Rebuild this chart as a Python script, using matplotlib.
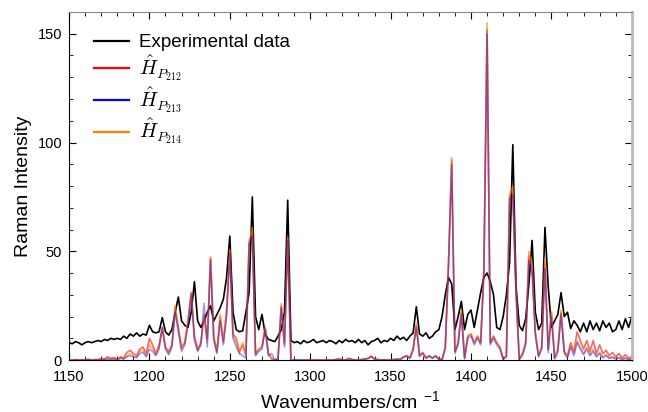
import numpy as np
import matplotlib
matplotlib.use('Agg')
import matplotlib.pyplot as plt
from matplotlib.ticker import MultipleLocator

plt.rcParams['font.family'] = ['Liberation Sans', 'DejaVu Sans']
plt.rcParams['mathtext.fontset'] = 'cm'

# wavenumber grid, 2 cm-1 step
wavenumber = np.arange(1150, 1501, 2)

experimental = [
    8, 7.5, 8.5, 8, 7, 8, 8.5, 8, 8.5, 9,
    8.5, 9.5, 9, 10, 9.5, 10, 9.5, 11, 10, 12,
    11, 12.5, 11, 12, 11.5, 16, 13, 12.5, 13, 19.5,
    13, 11.5, 14, 22, 29, 18, 16, 15, 22, 36,
    18, 15, 18, 22, 25, 18, 21, 24, 28, 38,
    57, 22, 14, 13, 13.5, 22, 31, 75, 20, 14,
    21, 12, 9.5, 9, 8.5, 11, 14, 22, 73.5, 9,
    8, 8.5, 7.5, 9, 8, 8.5, 9.5, 8, 8.5, 9,
    8, 9, 8.5, 7.5, 9, 8, 9.5, 8.5, 9, 8,
    9.5, 8, 9, 7, 8.5, 9, 10, 8, 9, 8.5,
    10, 9, 11, 9.5, 10.5, 9, 11, 12.5, 24.5, 12,
    11, 12.5, 10, 11, 13, 14, 20, 30, 38, 35,
    14, 20, 27, 14, 21, 23, 15, 23, 31, 38,
    40, 36, 30, 15, 14, 20, 30, 45, 99, 34,
    16, 13.5, 19, 35, 55, 22, 14, 17, 61, 34,
    15, 18, 21, 31, 20, 22, 14.5, 18, 16, 13,
    17, 13, 18, 14, 17, 13.5, 18, 15, 17, 13,
    14, 18, 14, 19, 15, 20,
]

h_p212 = [
    0, 0, 0.3, 0, 0.2, 0, 0.5, 0, 0.3, 0.2,
    0.8, 0.5, 1.5, 0.8, 1.2, 0.5, 1.5, 1.0, 3.5, 4.5,
    3, 2, 5, 6, 3, 10, 7, 3, 7, 15,
    6, 4, 7, 24, 15, 6, 8, 18, 31, 11,
    5, 8, 20, 10, 47, 11, 4, 20, 9, 22,
    50, 12, 10, 4, 7, 2, 54, 58, 3, 5,
    6, 15, 3, 0.5, 0, 1, 25, 8, 56, 0,
    0, 0, 0, 0, 0, 0, 0, 0, 0, 0,
    0, 0, 0, 0.3, 0.5, 0.2, 0, 0.8, 0.3, 0,
    0, 0.3, 0.5, 0.8, 1.8, 0.5, 0.3, 0, 0.2, 0,
    0, 0.3, 0.5, 0.3, 1.5, 2, 1, 5, 16, 2,
    3.5, 1, 2, 1, 2, 0.5, 0.3, 6, 44, 92,
    4, 8, 22, 1, 11, 12, 8, 11, 8, 41,
    152, 8, 11, 8, 6, 0.5, 2, 75, 78, 32,
    0.5, 3, 8, 48, 42, 13, 2, 6, 44, 5,
    22, 1, 5, 22, 4, 2, 8, 4, 13, 9,
    5, 9, 4, 9, 3, 7, 3, 4.5, 2, 3.5,
    1.5, 3, 1, 2.5, 1, 1.5,
]

h_p213 = [
    0, 0, 0, 0, 0, 0, 0.2, 0, 0, 0.1,
    0.3, 0.2, 0.5, 0.3, 0.5, 0.2, 0.8, 0.5, 1.5, 2,
    1.5, 1, 3, 3.5, 1.5, 5, 4, 2, 5, 15,
    5, 2.5, 6, 22, 13, 4, 7, 16, 30, 9,
    4, 7, 26, 6, 46, 9, 3, 18, 7, 20,
    49, 10, 6, 3, 2, 1, 53, 57, 2, 4,
    5, 14, 2, 3, 0, 0.5, 24, 6, 55, 0,
    0, 0, 0, 0, 0, 0, 0, 0, 0, 0,
    0, 0, 0, 0.2, 0.4, 0.1, 0, 0.6, 0.2, 0,
    0, 0.2, 0.4, 0.7, 1.6, 0.4, 0.2, 0, 0.1, 0,
    0, 0.2, 0.4, 0.2, 1.3, 1.8, 0.8, 4.5, 15, 1.8,
    3, 0.8, 1.8, 0.8, 1.8, 0.3, 0.2, 5, 43, 90,
    3, 7, 21, 0.5, 10, 11, 7, 10, 7, 40,
    150, 7, 10, 7, 5, 0.3, 1.5, 74, 76, 30,
    0.3, 2, 7, 46, 40, 11, 1.5, 5, 42, 3.5,
    20, 0.5, 3.5, 21, 3, 1, 6, 2, 8, 5,
    2.5, 5, 2, 4, 1.5, 3, 1, 2, 0.8, 1.2,
    0.5, 1, 0.3, 0.8, 0.3, 0.5,
]

h_p214 = [
    0, 0, 0, 0, 0, 0, 0.2, 0, 0.1, 0,
    0.4, 0.3, 0.8, 0.4, 0.6, 0.3, 1, 0.6, 2, 3,
    2, 1.5, 4, 4.5, 2, 7, 5, 2.5, 6, 14,
    5.5, 3, 6.5, 25, 14, 5, 8, 19, 31, 10,
    4.5, 7.5, 21, 8, 47.5, 10, 3.5, 21, 8, 24,
    51, 11, 8, 3, 8, 3, 55, 61, 2.5, 5,
    6, 15, 3, 1, 0, 0.5, 26, 7, 56.5, 0,
    0, 0, 0, 0, 0, 0, 0, 0, 0, 0,
    0, 0, 0, 0.3, 0.5, 0.2, 0, 0.7, 0.3, 0,
    0, 0.3, 0.5, 0.8, 1.8, 0.5, 0.3, 0, 0.2, 0,
    0, 0.3, 0.5, 0.3, 1.5, 2, 1, 5.5, 17, 2,
    3.5, 1, 2, 1, 2, 0.5, 0.3, 6, 45, 93,
    4, 8, 23, 1, 11, 12, 8, 11, 8, 42,
    155, 8, 11, 8, 6, 0.5, 2, 76, 80, 33,
    0.5, 3, 8, 50, 43, 13, 2, 6, 47, 5,
    22, 1, 5, 23, 4, 1.5, 7, 3, 9, 6,
    3, 6, 2.5, 5, 2, 3.5, 1.5, 2.5, 1, 1.5,
    0.8, 1.2, 0.5, 1, 0.4, 0.6,
]

fig = plt.figure(figsize=(6.48, 4.12), dpi=100)
ax = fig.add_axes([0.1065, 0.126, 0.8685, 0.845])

exp_line, = ax.plot(wavenumber, experimental, color='black', lw=1.2)
# drawing order red -> orange -> blue gives the mauve overlap of the original
red_line, = ax.plot(wavenumber, h_p212, color='red', lw=1.2, alpha=0.6)
orange_line, = ax.plot(wavenumber, h_p214, color='#ff8000', lw=1.2, alpha=0.6)
blue_line, = ax.plot(wavenumber, h_p213, color='blue', lw=1.2, alpha=0.4)

ax.set_xlim(1150, 1500)
ax.set_ylim(0, 160)
ax.xaxis.set_major_locator(MultipleLocator(50))
ax.xaxis.set_minor_locator(MultipleLocator(10))
ax.yaxis.set_major_locator(MultipleLocator(50))
ax.yaxis.set_minor_locator(MultipleLocator(10))
ax.tick_params(which='both', direction='in', top=True, right=True, labelsize=10.5)
ax.tick_params(which='major', length=5)
ax.tick_params(which='minor', length=3)
ax.tick_params(axis='x', pad=7)
ax.tick_params(axis='y', pad=5)
ax.spines['top'].set_color('#888888')
ax.spines['right'].set_color('#bbbbbb')
ax.spines['right'].set_linewidth(2)

ax.set_xlabel(r'Wavenumbers/cm $^{\mathregular{-1}}$', fontsize=14, labelpad=5)
ax.set_ylabel('Raman Intensity', fontsize=14, labelpad=4)

labels = ['Experimental data', r'$\hat{H}_{P_{212}}$', r'$\hat{H}_{P_{213}}$', r'$\hat{H}_{P_{214}}$']
leg = ax.legend([exp_line, red_line, blue_line, orange_line], labels,
                loc='upper left', frameon=False, fontsize=13.5, handlelength=1.85,
                handletextpad=0.55, labelspacing=0.12, bbox_to_anchor=(0.015, 0.985))
for line in leg.get_lines():
    line.set_alpha(1)
    line.set_linewidth(1.6)
for txt in leg.get_texts()[1:]:
    txt.set_fontsize(14.5)

fig.savefig('out.png', dpi=100)
